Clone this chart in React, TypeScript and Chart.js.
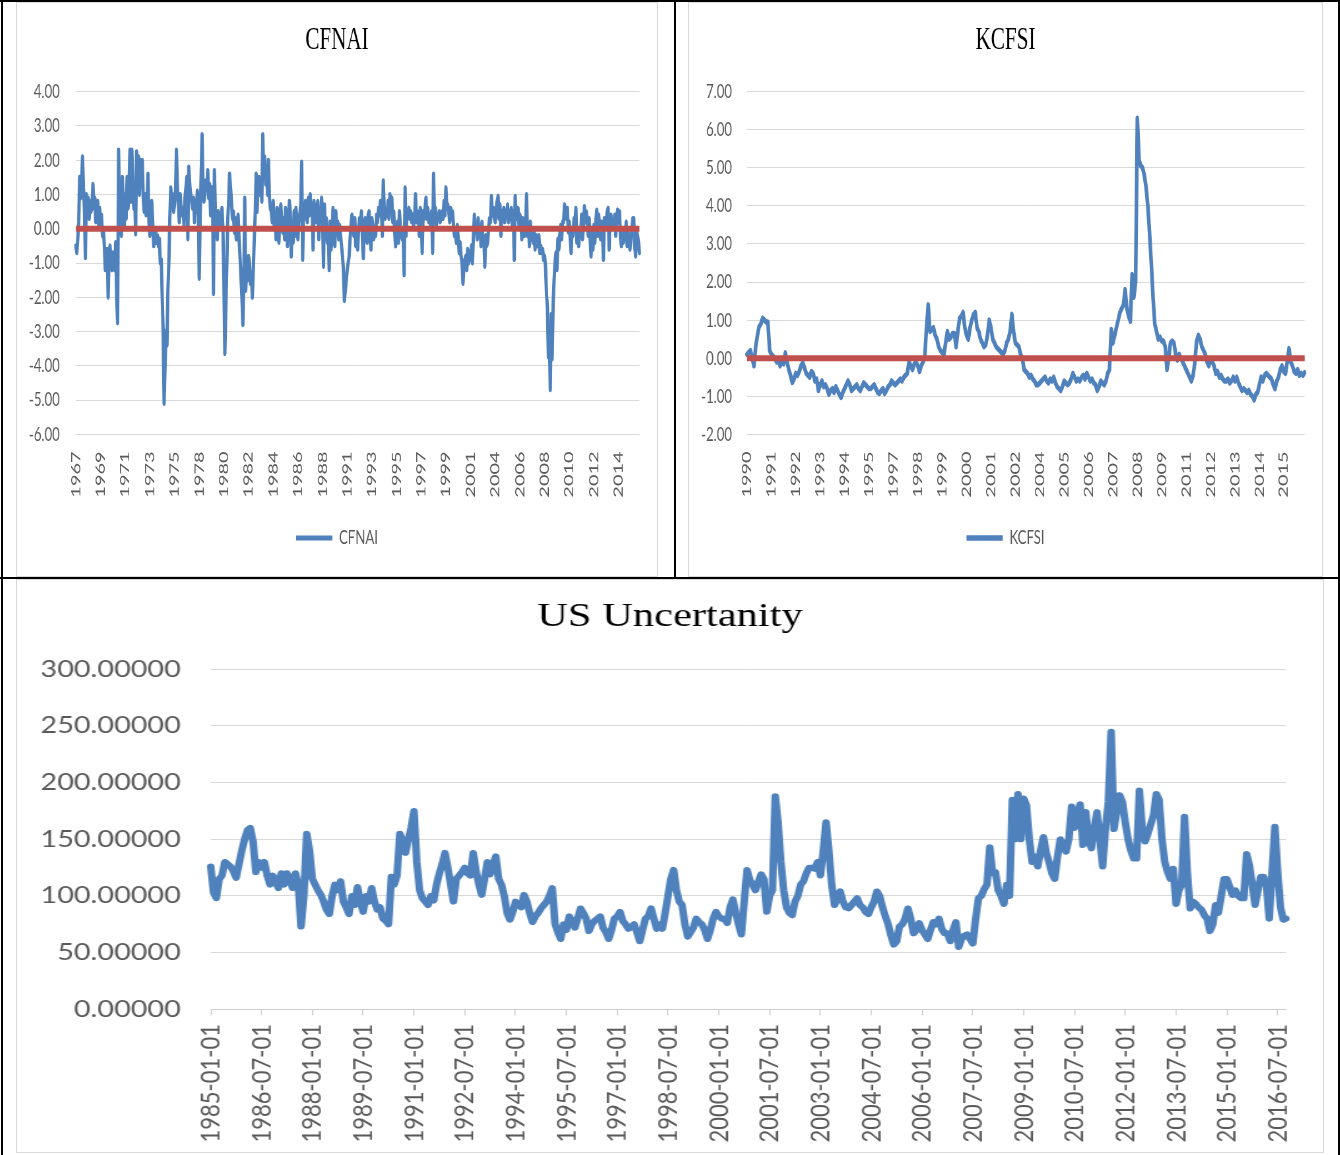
import React, { useEffect, useRef } from 'react';
import { Chart, registerables } from 'chart.js';

Chart.register(...registerables);

// ---------------- DATA ----------------
// CFNAI, monthly, 1967-03 .. 2016-09 (one row per calendar year)
const cfnaiStart = { year: 1967, month: 3 };
const cfnaiValues = [
  -0.5, -0.7, -0.3, 0.2, 1.5, 0.9, 1.3, 2.1, 1.2, 0.6, // 1967
  -0.85, 1.0, 0.4, 0.9, 0.3, 0.8, 0.5, 0.7, 1.3, 0.6, 0.9, 0.2, // 1968
  0.5, 0.8, 0.1, 0.6, 0.3, 0.4, -0.2, 0.0, -0.5, -1.2, -1.0, -0.6, // 1969
  -2.0, -0.8, -0.5, -1.0, -1.2, -0.7, -1.1, -1.2, -0.4, -2.0, -2.75, 2.3, // 1970
  0.5, 0.8, -0.2, 1.5, 0.7, 0.0, 1.0, 0.3, 1.5, 0.6, 1.2, 2.3, // 1971
  0.8, 2.3, 1.5, 0.6, 1.0, -0.15, 2.25, 1.4, 2.1, 1.0, 2.0, 1.3, // 1972
  2.0, 0.9, 0.5, 1.0, 0.4, 0.8, 1.6, 0.2, -0.2, 0.4, 0.8, 0.2, // 1973
  -0.5, -0.3, 0.0, -0.4, -0.2, -0.5, -0.3, -1.0, -0.9, -2.0, -3.0, -5.1, // 1974
  -4.0, -3.0, -3.4, -1.8, -1.0, 0.3, 1.2, 0.8, 1.0, 0.5, 0.7, 1.0, // 1975
  2.3, 1.2, 0.8, 0.2, 1.0, 0.5, 0.4, 0.6, 0.1, 0.9, 1.2, 1.5, // 1976
  -0.3, 1.8, 1.3, 1.0, 0.8, 0.6, 0.9, 0.2, 0.8, 0.5, 1.1, 0.8, // 1977
  -1.45, 0.3, 1.5, 2.75, 1.2, 0.8, 1.0, 1.4, 1.2, 1.7, 0.9, 1.3, // 1978
  0.4, 1.0, 1.2, -1.9, 1.7, 0.6, 0.2, -0.3, 0.5, 0.2, 0.0, 0.3, // 1979
  0.6, 0.0, -1.5, -3.65, -2.4, -1.2, 0.2, 0.8, 1.6, 1.2, 0.8, 0.3, // 1980
  0.5, -0.1, 0.3, -0.3, 0.2, 0.4, -0.3, -0.8, -1.4, -2.0, -2.8, -1.5, // 1981
  0.9, -1.8, -1.2, -1.5, -0.8, -1.0, -1.6, -1.3, -2.0, -1.2, -0.3, 0.4, // 1982
  1.6, 0.5, 1.2, 1.5, 1.0, 1.4, 0.8, 2.75, 1.5, 2.1, 1.3, 1.8, // 1983
  1.0, 2.0, 0.9, 0.6, 0.5, 0.2, 0.8, 0.1, 0.4, -0.3, 0.6, 0.3, // 1984
  -0.4, 0.5, 0.7, 0.2, -0.1, 0.3, -0.3, 0.6, 0.4, -0.5, 0.2, 0.8, // 1985
  0.5, -0.8, 0.1, -0.4, 0.5, -0.2, 0.6, 0.3, -0.3, 0.2, 0.4, 0.7, // 1986
  1.95, -0.9, 0.6, 0.3, 0.8, 0.5, 0.2, 0.9, 0.4, 1.0, 0.5, 0.7, // 1987
  -0.6, 0.8, 0.4, 0.2, 0.6, 0.8, -0.3, 0.5, 0.2, 0.9, 0.3, -1.1, // 1988
  0.7, -0.2, 0.3, -0.4, -0.1, -1.2, 0.2, -0.6, -0.3, 0.6, 0.0, -0.5, // 1989
  0.5, -0.1, 0.2, -0.3, 0.1, -0.2, -0.5, -0.8, -1.2, -2.1, -1.8, -1.5, // 1990
  -1.2, -1.0, -0.8, -0.3, 0.1, 0.4, 0.2, -0.2, 0.3, -0.5, -0.2, -0.6, // 1991
  0.0, 0.3, 0.2, 0.5, -0.3, -0.85, 0.1, 0.3, 0.2, -0.4, 0.4, 0.5, // 1992
  -0.2, -0.6, 0.3, 0.1, -0.3, 0.0, -0.2, 0.4, 0.2, 0.6, 0.4, 0.8, // 1993
  0.5, -0.2, 1.4, 0.6, 0.3, 0.5, 0.4, 0.8, 0.3, 1.0, 0.6, 0.9, // 1994
  0.2, 0.5, -0.1, -0.5, -0.2, 0.2, -0.4, 0.5, 0.1, -0.2, -0.3, -0.1, // 1995
  -1.35, 1.2, -0.2, 0.4, 0.5, 0.6, 0.3, 0.5, 0.2, 0.4, 0.1, 0.3, // 1996
  1.0, 0.2, 0.5, 0.3, -0.2, 0.6, 0.4, -0.7, 0.5, 0.3, 0.6, 0.9, // 1997
  0.3, 0.6, 0.2, 0.4, 0.1, 0.5, -0.7, 1.6, 0.3, 0.6, 0.1, 0.4, // 1998
  0.3, 0.5, 0.2, 0.4, 0.5, 0.3, 0.8, 0.4, 1.2, 0.6, 0.7, 0.5, // 1999
  0.2, 0.6, 0.3, 0.5, 0.1, -0.2, -0.1, -0.4, 0.1, -0.3, -0.7, -0.4, // 2000
  -0.8, -1.0, -1.6, -1.1, -0.9, -0.8, -1.2, -0.6, -1.0, -0.7, -0.9, -0.5, // 2001
  -1.0, -0.2, 0.4, -0.1, 0.1, -0.3, 0.3, -0.2, 0.0, -0.5, 0.2, -0.4, // 2002
  -0.3, -1.1, -0.2, -0.5, -0.4, 0.0, 0.3, 0.2, 0.95, 0.4, 0.6, 0.3, // 2003
  0.2, 0.6, 0.8, 0.95, 0.3, 0.7, -0.2, 0.5, 0.4, 0.6, 0.2, 0.5, // 2004
  0.4, 0.7, 0.2, 0.5, 0.3, 0.6, 0.1, 0.5, -0.9, 0.95, 0.4, 0.3, // 2005
  0.6, 0.1, 0.4, 0.2, -0.3, 0.3, 0.1, -0.2, 0.0, 1.0, -0.2, 0.1, // 2006
  -0.5, 0.2, -0.3, 0.0, -0.4, -0.1, -0.6, -0.2, -0.3, -0.5, -0.2, -0.7, // 2007
  -0.5, -0.7, -0.6, -0.9, -0.8, -1.1, -1.9, -2.3, -3.75, -2.9, -4.7, -2.5, // 2008
  -3.8, -2.2, -1.5, -1.0, -0.7, -1.2, -0.3, -0.6, -0.2, 0.1, -0.3, 0.2, // 2009
  0.2, 0.7, 0.5, 0.3, 0.6, -0.1, 0.2, -0.3, -0.7, 0.0, -0.2, 0.3, // 2010
  0.2, 0.6, -0.4, -0.1, -0.5, 0.0, -0.2, 0.4, -0.3, 0.1, 0.65, 0.2, // 2011
  0.5, 0.2, -0.2, 0.3, -0.3, -0.8, -0.1, -0.6, 0.1, -0.4, 0.2, 0.55, // 2012
  -0.2, 0.4, 0.1, -0.3, 0.2, -0.1, -0.9, 0.3, 0.0, 0.2, 0.5, 0.6, // 2013
  -0.6, 0.3, 0.4, 0.0, 0.2, 0.1, 0.4, -0.2, 0.3, 0.55, 0.2, 0.5, // 2014
  -0.3, -0.5, -0.1, -0.4, -0.2, -0.3, 0.2, -0.5, -0.1, -0.4, -0.6, -0.3, // 2015
  0.0, 0.3, 0.3, -0.5, -0.8, -0.1, -0.2, -0.4, -0.7, // 2016
];
const cfnaiTicks = [
  '1967-03', '1969-05', '1971-07', '1973-09', '1975-11', '1978-01', '1980-03', '1982-05',
  '1984-07', '1986-09', '1988-11', '1991-01', '1993-03', '1995-05', '1997-07', '1999-09',
  '2001-11', '2004-01', '2006-03', '2008-05', '2010-07', '2012-09', '2014-11',
];
const cfnaiZeroLine = [0, 0];
const cfnaiYRange = [-6, 4];

// KCFSI, monthly, 1990-02 .. 2016-10
const kcfsiStart = { year: 1990, month: 2 };
const kcfsiValues = [
  0.1, 0.15, 0.2, 0.0, -0.2, 0.3, 0.6, 0.83, 0.9, 1.05, 1.0, // 1990
  0.95, 0.95, 0.2, 0.1, 0.05, 0.0, -0.1, -0.05, -0.2, -0.1, -0.15, 0.14, // 1991
  -0.1, -0.3, -0.45, -0.64, -0.55, -0.4, -0.45, -0.35, -0.2, -0.12, -0.25, -0.4, // 1992
  -0.45, -0.5, -0.35, -0.4, -0.6, -0.55, -0.85, -0.7, -0.6, -0.75, -0.7, -0.8, // 1993
  -0.95, -0.85, -0.8, -0.9, -0.75, -0.85, -0.95, -1.03, -0.9, -0.8, -0.7, -0.6, // 1994
  -0.7, -0.85, -0.8, -0.75, -0.7, -0.8, -0.85, -0.75, -0.65, -0.7, -0.75, -0.8, // 1995
  -0.8, -0.75, -0.7, -0.8, -0.9, -0.93, -0.85, -0.8, -0.93, -0.85, -0.75, -0.7, // 1996
  -0.6, -0.65, -0.7, -0.65, -0.6, -0.55, -0.6, -0.5, -0.45, -0.4, -0.1, -0.2, // 1997
  -0.3, -0.15, -0.1, -0.2, -0.35, -0.2, -0.1, 0.0, 0.8, 1.4, 0.7, 0.75, // 1998
  0.8, 0.6, 0.5, 0.3, 0.2, 0.15, 0.1, 0.4, 0.7, 0.5, 0.55, 0.65, // 1999
  0.65, 0.3, 0.7, 1.05, 1.1, 1.2, 0.8, 0.6, 0.5, 0.8, 1.0, 1.15, // 2000
  1.2, 0.8, 0.7, 0.5, 0.4, 0.3, 0.35, 0.6, 1.0, 0.8, 0.5, 0.4, // 2001
  0.3, 0.25, 0.2, 0.15, 0.1, 0.2, 0.4, 0.5, 0.7, 1.15, 0.7, 0.4, // 2002
  0.35, 0.3, 0.1, 0.0, -0.3, -0.35, -0.4, -0.5, -0.45, -0.55, -0.6, -0.7, // 2003
  -0.7, -0.65, -0.6, -0.55, -0.5, -0.6, -0.65, -0.55, -0.6, -0.5, -0.65, -0.75, // 2004
  -0.8, -0.85, -0.75, -0.6, -0.65, -0.7, -0.65, -0.55, -0.4, -0.5, -0.6, -0.55, // 2005
  -0.6, -0.5, -0.45, -0.55, -0.4, -0.5, -0.6, -0.55, -0.65, -0.7, -0.85, -0.75, // 2006
  -0.6, -0.65, -0.7, -0.6, -0.4, -0.3, 0.75, 0.4, 0.6, 0.8, 1.0, 1.2, // 2007
  1.3, 1.4, 1.8, 1.3, 1.1, 0.97, 2.2, 1.6, 2.0, 6.3, 5.2, 5.05, // 2008
  5.0, 4.8, 4.5, 4.0, 3.3, 2.5, 1.6, 0.9, 0.7, 0.5, 0.55, 0.45, // 2009
  0.45, 0.3, -0.3, 0.0, 0.4, 0.45, 0.4, 0.1, -0.05, 0.1, 0.0, -0.1, // 2010
  -0.2, -0.3, -0.4, -0.5, -0.6, -0.45, -0.1, 0.45, 0.6, 0.5, 0.3, 0.2, // 2011
  0.1, -0.1, -0.2, -0.05, -0.1, -0.2, -0.4, -0.35, -0.5, -0.45, -0.55, -0.6, // 2012
  -0.6, -0.55, -0.65, -0.6, -0.5, -0.6, -0.5, -0.65, -0.75, -0.85, -0.8, -0.85, // 2013
  -0.9, -0.85, -0.95, -1.0, -1.1, -0.95, -0.9, -0.7, -0.5, -0.6, -0.45, -0.4, // 2014
  -0.45, -0.5, -0.55, -0.7, -0.8, -0.6, -0.5, -0.3, -0.2, -0.35, -0.4, -0.1, // 2015
  0.25, -0.1, -0.2, -0.35, -0.4, -0.3, -0.45, -0.4, -0.45, -0.38, // 2016
];
const kcfsiTicks = [
  '1990-02', '1991-04', '1992-06', '1993-08', '1994-10', '1995-12', '1997-02', '1998-04',
  '1999-06', '2000-08', '2001-10', '2002-12', '2004-02', '2005-04', '2006-06', '2007-08',
  '2008-10', '2009-12', '2011-02', '2012-04', '2013-06', '2014-08', '2015-10',
];
const kcfsiZeroLine = [0, 0];
const kcfsiYRange = [-2, 7];

// US Uncertainty, monthly, 1985-01 .. 2016-10
const uncStart = { year: 1985, month: 1 };
const uncValues = [
  126, 103, 98, 115, 118, 130, 128, 126, 122, 116, 128, 140, // 1985
  150, 158, 160, 148, 121, 130, 125, 130, 118, 110, 118, 112, // 1986
  107, 120, 110, 120, 115, 107, 120, 110, 73, 100, 155, 140, // 1987
  115, 110, 105, 101, 95, 88, 84, 100, 110, 105, 113, 95, // 1988
  90, 84, 100, 92, 108, 95, 86, 100, 95, 107, 95, 88, // 1989
  90, 80, 78, 75, 117, 110, 118, 155, 148, 138, 150, 160, // 1990
  175, 130, 105, 98, 95, 92, 100, 96, 110, 120, 128, 138, // 1991
  125, 110, 95, 115, 118, 121, 125, 120, 118, 138, 122, 110, // 1992
  101, 115, 130, 119, 128, 135, 115, 110, 100, 85, 79, 86, // 1993
  95, 92, 90, 101, 95, 85, 77, 82, 85, 89, 92, 95, // 1994
  100, 107, 75, 68, 62, 75, 70, 82, 78, 72, 80, 89, // 1995
  85, 80, 69, 75, 78, 80, 82, 72, 68, 62, 70, 80, // 1996
  82, 86, 78, 75, 71, 73, 75, 68, 60, 70, 80, 82, // 1997
  89, 80, 71, 75, 71, 85, 100, 115, 123, 105, 95, 92, // 1998
  75, 64, 68, 72, 80, 77, 75, 70, 62, 70, 80, 86, // 1999
  82, 80, 80, 76, 90, 97, 85, 75, 66, 95, 123, 114, // 2000
  110, 105, 112, 119, 115, 86, 100, 105, 188, 165, 130, 105, // 2001
  90, 85, 83, 95, 100, 110, 113, 120, 125, 125, 124, 130, // 2002
  118, 140, 165, 140, 110, 92, 98, 104, 95, 90, 89, 92, // 2003
  95, 98, 92, 90, 86, 84, 90, 95, 104, 100, 90, 82, // 2004
  75, 65, 57, 60, 73, 75, 80, 89, 80, 67, 70, 76, // 2005
  70, 66, 62, 70, 77, 75, 80, 71, 67, 67, 60, 70, // 2006
  77, 55, 62, 65, 66, 62, 58, 80, 98, 100, 106, 110, // 2007
  143, 120, 121, 105, 100, 93, 110, 100, 185, 150, 190, 150, // 2008
  186, 180, 150, 130, 135, 126, 140, 152, 138, 130, 120, 115, // 2009
  135, 150, 145, 139, 150, 179, 160, 170, 181, 145, 174, 150, // 2010
  142, 160, 174, 150, 126, 160, 183, 245, 159, 175, 189, 183, // 2011
  165, 150, 140, 133, 133, 193, 160, 148, 155, 163, 171, 190, // 2012
  185, 150, 130, 121, 115, 124, 93, 105, 110, 170, 120, 89, // 2013
  95, 93, 90, 88, 83, 80, 69, 75, 92, 85, 100, 115, // 2014
  115, 108, 101, 105, 100, 98, 98, 137, 127, 110, 92, 105, // 2015
  117, 117, 110, 80, 120, 161, 121, 90, 79, 80, // 2016
];
const uncTicks = [
  '1985-01-01', '1986-07-01', '1988-01-01', '1989-07-01', '1991-01-01', '1992-07-01',
  '1994-01-01', '1995-07-01', '1997-01-01', '1998-07-01', '2000-01-01', '2001-07-01',
  '2003-01-01', '2004-07-01', '2006-01-01', '2007-07-01', '2009-01-01', '2010-07-01',
  '2012-01-01', '2013-07-01', '2015-01-01', '2016-07-01',
];
const uncYRange = [0, 300];

// ---------------- HELPERS ----------------
function monthCategories(start: { year: number; month: number }, count: number, suffix: string) {
  const out: string[] = [];
  for (let i = 0; i < count; i++) {
    const t = start.year * 12 + (start.month - 1) + i;
    const y = Math.floor(t / 12);
    const m = (t % 12) + 1;
    out.push(`${y}-${String(m).padStart(2, '0')}${suffix}`);
  }
  return out;
}

const BLUE = '#4F81BD';
const RED = '#C0504D';
const GRID = '#D9D9D9';
const LABEL = '#595959';
const SANS = 'Lato';
const SERIF = 'Liberation Serif';

// An empty right-hand axis reserves the right margin so that the title and
// legend stay centred on the whole panel.
function spacerAxis(width: number) {
  return {
    type: 'linear',
    position: 'right',
    display: true,
    grid: { display: false, drawTicks: false },
    border: { display: false },
    ticks: { display: false },
    afterFit: (s: any) => { s.width = width; },
  };
}

function topConfig(p: {
  title: string; series: string; values: number[]; start: { year: number; month: number };
  ticks: string[]; zero: number[]; yRange: number[]; lineWidth: number;
  yWidth: number; yPad: number; rightPad: number; xHeight: number;
}) {
  const labels = monthCategories(p.start, p.values.length, '');
  const tickSet = new Set(p.ticks);
  return {
    type: 'line',
    data: {
      labels,
      datasets: [
        {
          label: 'zero',
          data: [
            { x: labels[0], y: p.zero[0] },
            { x: labels[labels.length - 1], y: p.zero[1] },
          ],
          borderColor: RED,
          backgroundColor: RED,
          borderWidth: 6,
          pointRadius: 0,
          tension: 0,
          order: 0,
        },
        {
          label: p.series,
          data: p.values,
          borderColor: BLUE,
          backgroundColor: BLUE,
          borderWidth: p.lineWidth,
          borderJoinStyle: 'round',
          borderCapStyle: 'round',
          pointRadius: 0,
          pointStyle: 'line',
          tension: 0,
          order: 1,
        },
      ],
    },
    options: {
      responsive: false,
      animation: false,
      devicePixelRatio: 1,
      events: [],
      layout: { padding: { left: 0, right: 0, top: 0, bottom: 18 } },
      plugins: {
        title: {
          display: true,
          text: p.title,
          color: '#000000',
          font: { family: SERIF, size: 32, weight: 'normal' },
          padding: { top: 18.8, bottom: 31.5 },
        },
        legend: {
          display: true,
          position: 'bottom',
          labels: {
            usePointStyle: true,
            pointStyleWidth: 55,
            color: LABEL,
            font: { family: SANS, size: 20 },
            padding: 10,
            filter: (item: any) => item.datasetIndex === 1,
          },
        },
        tooltip: { enabled: false },
      },
      scales: {
        x: {
          grid: { display: false, drawTicks: false },
          border: { display: false },
          ticks: {
            autoSkip: false,
            minRotation: 90,
            maxRotation: 90,
            padding: 17,
            color: LABEL,
            font: { family: SANS, size: 20 },
            callback: (value: number) => {
              const l = labels[value];
              return tickSet.has(l) ? l.slice(0, 4) : null;
            },
          },
          afterFit: (s: any) => { s.height = p.xHeight; },
        },
        y: {
          min: p.yRange[0],
          max: p.yRange[1],
          grid: { color: GRID, lineWidth: 1, drawTicks: false },
          border: { display: false },
          ticks: {
            stepSize: 1,
            padding: p.yPad,
            color: LABEL,
            font: { family: SANS, size: 20 },
            callback: (v: number) => Number(v).toFixed(2),
          },
          afterFit: (s: any) => { s.width = p.yWidth; },
        },
        spacer: spacerAxis(p.rightPad),
      },
    },
  };
}

function bottomConfig() {
  const labels = monthCategories(uncStart, uncValues.length, '-01');
  const tickSet = new Set(uncTicks);
  return {
    type: 'line',
    data: {
      labels,
      datasets: [
        {
          label: 'US Uncertanity',
          data: uncValues,
          borderColor: BLUE,
          backgroundColor: BLUE,
          borderWidth: 6,
          borderJoinStyle: 'round',
          borderCapStyle: 'round',
          pointRadius: 0,
          tension: 0,
        },
      ],
    },
    options: {
      responsive: false,
      animation: false,
      devicePixelRatio: 1,
      events: [],
      layout: { padding: { left: 0, right: 0, top: 0, bottom: 0 } },
      plugins: {
        title: {
          display: true,
          text: 'US Uncertanity',
          color: '#000000',
          font: { family: SERIF, size: 34, weight: 'normal' },
          padding: { top: 16.6, bottom: 31.9 },
        },
        legend: { display: false },
        tooltip: { enabled: false },
      },
      scales: {
        x: {
          grid: { display: true, drawOnChartArea: false, drawTicks: true, tickLength: 6, color: '#CFCFCF', lineWidth: 1 },
          border: { display: true, color: '#CFCFCF', width: 1 },
          ticks: {
            autoSkip: false,
            minRotation: 90,
            maxRotation: 90,
            padding: 8.7,
            color: LABEL,
            font: { family: SANS, size: 22 },
            callback: (value: number) => {
              const l = labels[value];
              return tickSet.has(l) ? l : null;
            },
          },
          afterFit: (s: any) => { s.height = 142.7; },
        },
        y: {
          min: uncYRange[0],
          max: uncYRange[1],
          grid: { color: GRID, lineWidth: 1, drawTicks: false },
          border: { display: false },
          ticks: {
            stepSize: 50,
            padding: 24,
            color: LABEL,
            font: { family: SANS, size: 23 },
            callback: (v: number) => Number(v).toFixed(5),
          },
          afterFit: (s: any) => { s.width = 155; },
        },
        spacer: spacerAxis(29.5),
      },
    },
  };
}

// ---------------- COMPONENTS ----------------
function ChartPanel(props: { left: number; top: number; width: number; height: number; sx: number; make: () => any }) {
  const { left, top, width, height, sx, make } = props;
  const ref = useRef<HTMLCanvasElement>(null);
  const cw = width - 2;
  const ch = height - 2;
  const internalW = Math.round(cw / sx);
  useEffect(() => {
    const chart = new Chart(ref.current as HTMLCanvasElement, make());
    return () => chart.destroy();
  }, []);
  return (
    <div
      style={{
        position: 'absolute', left, top, width, height, boxSizing: 'border-box',
        border: '1px solid #D9D9D9', background: '#FFFFFF',
      }}
    >
      <canvas ref={ref} width={internalW} height={ch} style={{ display: 'block', width: cw, height: ch }} />
    </div>
  );
}

const blk = (left: number, top: number, width: number, height: number) => (
  <div style={{ position: 'absolute', left, top, width, height, background: '#000' }} />
);

export default function App() {
  return (
    <div style={{ position: 'absolute', left: 0, top: 0, width: 1340, height: 1155, background: '#FFFFFF', overflow: 'hidden' }}>
      {blk(0, 0, 1340, 2)}
      {blk(1, 0, 2, 1155)}
      {blk(674, 0, 2, 578)}
      {blk(1338, 0, 2, 1155)}
      {blk(0, 577, 1340, 2)}
      <ChartPanel
        left={16} top={2} width={642} height={575} sx={0.66}
        make={() => topConfig({
          title: 'CFNAI', series: 'CFNAI', values: cfnaiValues, start: cfnaiStart, ticks: cfnaiTicks,
          zero: cfnaiZeroLine, yRange: cfnaiYRange, lineWidth: 5,
          yWidth: 89.2, yPad: 24.3, rightPad: 26.6, xHeight: 83.7,
        })}
      />
      <ChartPanel
        left={688} top={2} width={635} height={575} sx={0.66}
        make={() => topConfig({
          title: 'KCFSI', series: 'KCFSI', values: kcfsiValues, start: kcfsiStart, ticks: kcfsiTicks,
          zero: kcfsiZeroLine, yRange: kcfsiYRange, lineWidth: 5.5,
          yWidth: 87.8, yPad: 22.6, rightPad: 26.3, xHeight: 83.7,
        })}
      />
      <ChartPanel left={16} top={579} width={1308} height={574} sx={1.25} make={bottomConfig} />
    </div>
  );
}
